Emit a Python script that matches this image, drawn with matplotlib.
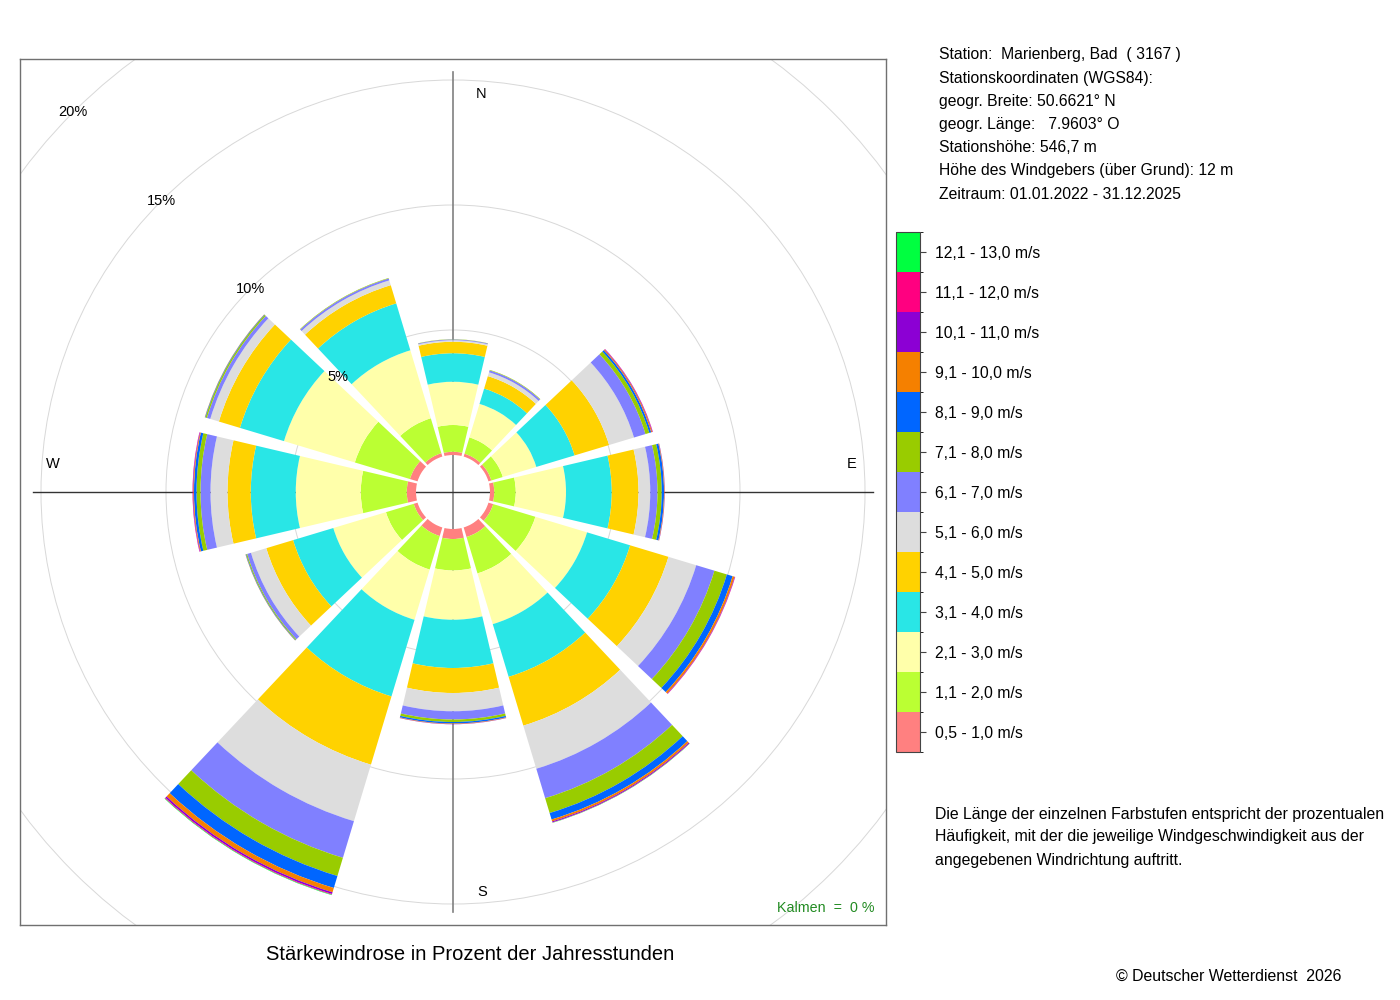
import numpy as np
import matplotlib
matplotlib.use("Agg")
import matplotlib.pyplot as plt
from matplotlib.patches import Wedge, Circle
from matplotlib.colors import ListedColormap, BoundaryNorm
from matplotlib.cm import ScalarMappable

plt.rcParams["font.family"] = ["Liberation Sans", "DejaVu Sans"]

# wind directions (compass degrees, sector centres)
directions = [0, 30, 60, 90, 120, 150, 180, 210, 240, 270, 300, 330]

speed_labels = [
    "0,5 - 1,0 m/s", "1,1 - 2,0 m/s", "2,1 - 3,0 m/s", "3,1 - 4,0 m/s",
    "4,1 - 5,0 m/s", "5,1 - 6,0 m/s", "6,1 - 7,0 m/s", "7,1 - 8,0 m/s",
    "8,1 - 9,0 m/s", "9,1 - 10,0 m/s", "10,1 - 11,0 m/s", "11,1 - 12,0 m/s",
    "12,1 - 13,0 m/s",
]
speed_colors = [
    "#FF8080", "#BBFF33", "#FFFFAA", "#29E6E6", "#FFD200", "#DDDDDD",
    "#8080FF", "#99CC00", "#0066FF", "#F58000", "#8C00D4", "#FF0080",
    "#00FF40",
]

# percentage of hours per speed class, one value per direction (N ... NNW)
s_0_5 = [0.13, 0.12, 0.12, 0.17, 0.20, 0.40, 0.40, 0.36, 0.16, 0.37, 0.32, 0.14]
s_1_1 = [1.07, 0.68, 0.48, 0.86, 1.76, 1.52, 1.26, 1.40, 1.16, 1.84, 2.30, 1.46]
s_2_1 = [1.73, 1.40, 1.40, 2.01, 2.16, 2.12, 1.97, 2.10, 2.20, 2.60, 2.96, 2.84]
s_3_1 = [1.14, 0.64, 1.60, 1.83, 1.80, 2.20, 1.93, 3.20, 1.68, 1.80, 1.84, 1.96]
s_4_1 = [0.46, 0.52, 1.44, 1.07, 1.60, 2.04, 1.00, 2.85, 1.12, 0.93, 0.88, 0.76]
s_5_1 = [0.06, 0.16, 1.04, 0.47, 1.16, 1.80, 0.73, 2.36, 0.64, 0.68, 0.36, 0.20]
s_6_1 = [0.03, 0.08, 0.48, 0.29, 0.76, 1.23, 0.33, 1.53, 0.16, 0.40, 0.14, 0.08]
s_7_1 = [0.01, 0.02, 0.16, 0.17, 0.52, 0.62, 0.10, 0.76, 0.04, 0.16, 0.06, 0.02]
s_8_1 = [0.00, 0.00, 0.08, 0.09, 0.24, 0.27, 0.06, 0.50, 0.02, 0.10, 0.02, 0.00]
s_9_1 = [0.00, 0.00, 0.04, 0.02, 0.08, 0.08, 0.02, 0.18, 0.01, 0.03, 0.01, 0.00]
s_10_1 = [0.00, 0.00, 0.02, 0.01, 0.02, 0.04, 0.01, 0.07, 0.00, 0.02, 0.00, 0.00]
s_11_1 = [0.00, 0.00, 0.01, 0.00, 0.01, 0.01, 0.00, 0.03, 0.00, 0.01, 0.00, 0.00]
s_12_1 = [0.00, 0.00, 0.00, 0.00, 0.00, 0.01, 0.00, 0.02, 0.00, 0.00, 0.00, 0.00]

speed_classes = [s_0_5, s_1_1, s_2_1, s_3_1, s_4_1, s_5_1, s_6_1, s_7_1,
                 s_8_1, s_9_1, s_10_1, s_11_1, s_12_1]

ring_ticks = [5, 10, 15, 20]

hole = 1.48          # inner empty circle, in percent units
half_width = 13.25   # half angular width of a sector
lim = 17.32

fig = plt.figure(figsize=(14, 10), dpi=100)
ax = fig.add_axes([20 / 1400, 75 / 1000, 866 / 1400, 866 / 1000])
ax.set_xlim(-lim, lim)
ax.set_ylim(-lim, lim)
ax.set_aspect("equal")
ax.set_xticks([])
ax.set_yticks([])
for sp in ax.spines.values():
    sp.set_color("#707070")
    sp.set_linewidth(1.0)

# grid circles and cross
for p in ring_ticks:
    ax.add_patch(Circle((0, 0), hole + p, fill=False, ec="#D8D8D8", lw=0.7, zorder=1))
ax.plot([0, 0], [-16.8, 16.8], color="#808080", lw=1.2, zorder=1)
ax.plot([-16.8, 16.8], [0, 0], color="#333333", lw=1.0, zorder=1)

# stacked wedges
for i, d in enumerate(directions):
    theta = 90 - d
    r = hole
    for k, cls in enumerate(speed_classes):
        v = cls[i]
        if v <= 0:
            continue
        ax.add_patch(Wedge((0, 0), r + v, theta - half_width, theta + half_width,
                           width=v, fc=speed_colors[k], ec="none", lw=0, zorder=2))
        r += v

# percent labels along the NW diagonal
for p in ring_ticks:
    rr = hole + p
    ax.text(-rr * np.cos(np.pi / 4), rr * np.sin(np.pi / 4), f"{p}%",
            ha="center", va="center", fontsize=10.5, zorder=5)

ax.text(1.12, 15.92, "N", ha="center", va="center", fontsize=10.5)
ax.text(15.96, 1.12, "E", ha="center", va="center", fontsize=10.5)
ax.text(1.16, -16.0, "S", ha="center", va="center", fontsize=10.5)
ax.text(-16.0, 1.12, "W", ha="center", va="center", fontsize=10.5)
ax.text(16.86, -16.62, "Kalmen  =  0 %", ha="right", va="center",
        fontsize=10.3, color="#228B22")

# title below the rose
fig.text(470 / 1400, 1 - 954 / 1000, "Stärkewindrose in Prozent der Jahresstunden",
         ha="center", va="center", fontsize=14.5)

# station info
info = [
    "Station:  Marienberg, Bad  ( 3167 )",
    "Stationskoordinaten (WGS84):",
    "geogr. Breite: 50.6621° N",
    "geogr. Länge:   7.9603° O",
    "Stationshöhe: 546,7 m",
    "Höhe des Windgebers (über Grund): 12 m",
    "Zeitraum: 01.01.2022 - 31.12.2025",
]
for j, line in enumerate(info):
    fig.text(939 / 1400, 1 - (55 + 23.2 * j) / 1000, line, ha="left", va="center",
             fontsize=11.35)

# colour legend
cax = fig.add_axes([896 / 1400, 248 / 1000, 24 / 1400, 520 / 1000])
cmap = ListedColormap(speed_colors)
norm = BoundaryNorm(np.arange(14), 13)
cb = fig.colorbar(ScalarMappable(norm=norm, cmap=cmap), cax=cax,
                  ticks=np.arange(13) + 0.5)
cb.set_ticklabels(speed_labels)
cb.outline.set_edgecolor("#444444")
cb.outline.set_linewidth(0.8)
cax.tick_params(length=4, width=0.8, color="#444444", labelsize=11.3, pad=6.6)

note = [
    "Die Länge der einzelnen Farbstufen entspricht der prozentualen",
    "Häufigkeit, mit der die jeweilige Windgeschwindigkeit aus der",
    "angegebenen Windrichtung auftritt.",
]
for j, line in enumerate(note):
    fig.text(935 / 1400, 1 - (814 + 23 * j) / 1000, line, ha="left", va="center",
             fontsize=11.45)

fig.text(1341 / 1400, 1 - 976 / 1000, "© Deutscher Wetterdienst  2026",
         ha="right", va="center", fontsize=11.4)

fig.savefig("out.png", dpi=100)
